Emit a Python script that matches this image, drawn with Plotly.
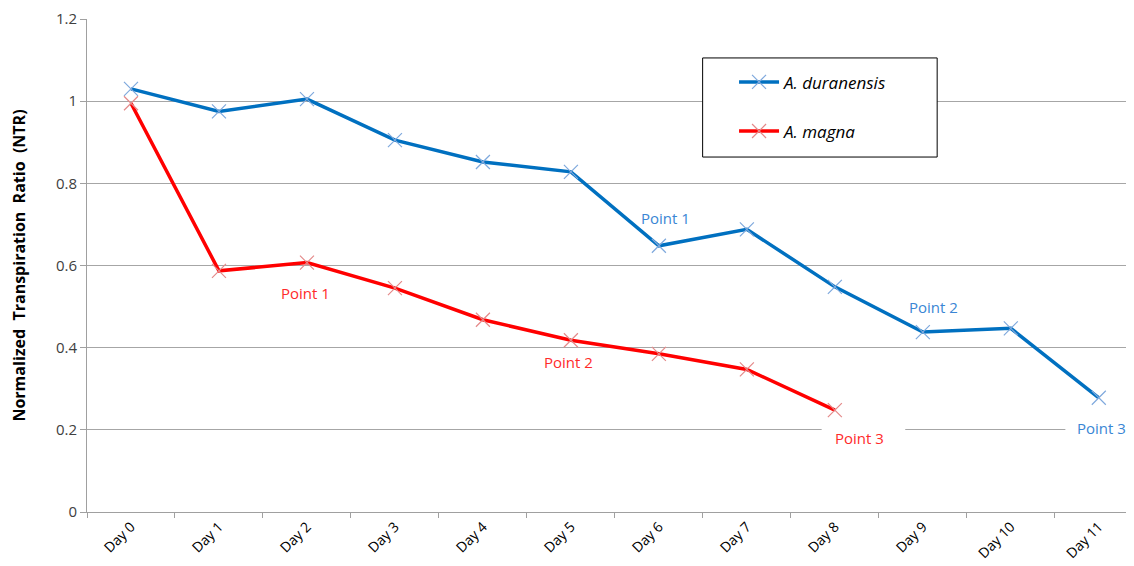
import plotly.graph_objects as go

days = ["Day 0", "Day 1", "Day 2", "Day 3", "Day 4", "Day 5", "Day 6",
        "Day 7", "Day 8", "Day 9", "Day 10", "Day 11"]
duranensis = [1.03, 0.975, 1.005, 0.905, 0.852, 0.828, 0.648, 0.688,
              0.548, 0.438, 0.447, 0.278]
magna = [0.995, 0.587, 0.607, 0.545, 0.468, 0.418, 0.385, 0.347, 0.248]

# annotation labels: (text, x category, y value)
blue_labels = [("Point 1", 6.08, 0.715), ("Point 2", 9.12, 0.499), ("Point 3", 11.03, 0.204)]
red_labels = [("Point 1", 1.98, 0.533), ("Point 2", 4.97, 0.365), ("Point 3", 8.28, 0.18)]

BLUE = "#0070C0"
RED = "#FF0000"
FONT = "Open Sans"

fig = go.Figure()
fig.add_trace(go.Scatter(
    x=days, y=duranensis, mode="lines+markers", name="<i>A. duranensis</i>",
    line=dict(color=BLUE, width=3.5),
    marker=dict(symbol="x-thin", size=14, line=dict(color="#7fa9dd", width=1.2)),
    legendgroup="a",
))
fig.add_trace(go.Scatter(
    x=days[:len(magna)], y=magna, mode="lines+markers", name="<i>A. magna</i>",
    line=dict(color=RED, width=3.5),
    marker=dict(symbol="x-thin", size=14, line=dict(color="#e48a8a", width=1.2)),
    legendgroup="b",
))

annotations = []
for t, x, y in blue_labels:
    annotations.append(dict(text=t, x=x, y=y, xref="x", yref="y", showarrow=False,
                            font=dict(family=FONT, size=15, color="#3a86d4")))
for t, x, y in red_labels:
    annotations.append(dict(text=t, x=x, y=y, xref="x", yref="y", showarrow=False,
                            font=dict(family=FONT, size=15, color="#ff2a2a")))

shapes = [
    # white gaps in the 0.2 gridline behind the "Point 3" labels
    dict(type="rect", xref="x", yref="y", x0=7.85, x1=8.8, y0=0.19, y1=0.21,
         line=dict(width=0), fillcolor="white", layer="between"),
    dict(type="rect", xref="x", yref="y", x0=10.62, x1=11.5, y0=0.19, y1=0.21,
         line=dict(width=0), fillcolor="white", layer="between"),
    # legend box
    dict(type="rect", xref="paper", yref="paper", x0=0.588, x1=0.812, y0=0.720, y1=0.921,
         line=dict(color="black", width=1), fillcolor="white", layer="above"),
]

fig.update_layout(
    width=1126, height=558,
    margin=dict(l=79, r=0, t=11, b=54),
    paper_bgcolor="white", plot_bgcolor="white",
    font=dict(family=FONT, size=14, color="#404040"),
    showlegend=True,
    legend=dict(x=0.618, y=0.908, xanchor="left", yanchor="top",
                bgcolor="rgba(0,0,0,0)", borderwidth=0,
                font=dict(family=FONT, size=17, color="black"),
                tracegroupgap=24, traceorder="grouped", itemwidth=40),
    annotations=annotations,
    shapes=shapes,
    xaxis=dict(type="category", categoryorder="array", categoryarray=days,
               range=[-0.5, 11.4], tickson="boundaries", ticks="outside", ticklen=5,
               tickcolor="#a0a0a0", showline=True, linecolor="#a0a0a0", linewidth=1,
               showgrid=False, tickangle=-45, tickfont=dict(size=14, color="black")),
    yaxis=dict(range=[0, 1.2], dtick=0.2, showgrid=True, gridcolor="#a6a6a6", gridwidth=1,
               ticks="outside", ticklen=6, tickcolor="#a0a0a0", showline=True,
               linecolor="#a0a0a0", zeroline=False, tickfont=dict(size=15, color="#404040"),
               title=dict(text="<b>Normalized&nbsp; Transpiration&nbsp; Ratio&nbsp; (NTR)</b>",
                          font=dict(family=FONT, size=16, color="black"), standoff=28)),
)

fig.write_html("out.html")
